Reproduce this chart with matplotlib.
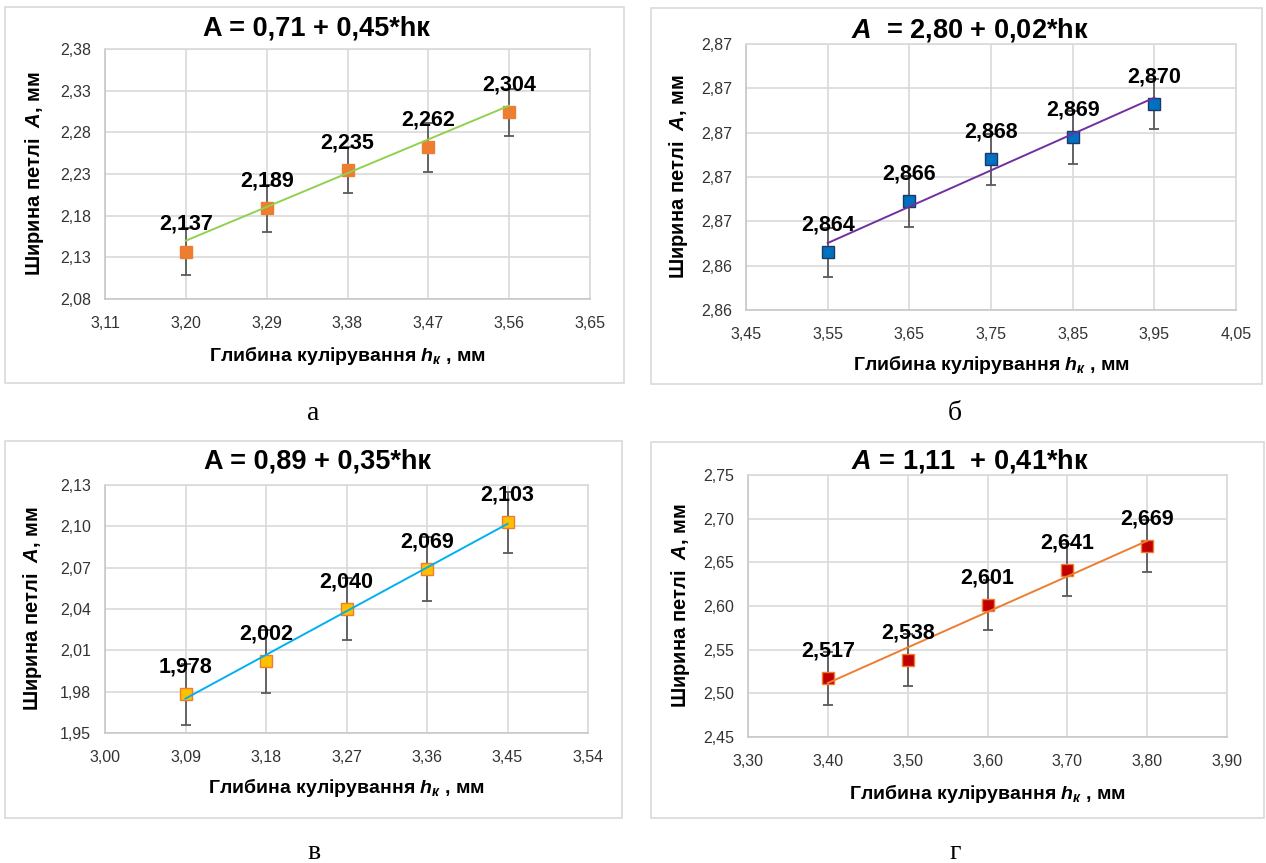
import numpy as np
import matplotlib
matplotlib.use("Agg")
import matplotlib.pyplot as plt
from matplotlib.patches import Rectangle

plt.rcParams['font.family'] = ['Liberation Sans', 'DejaVu Sans']
plt.rcParams['mathtext.fontset'] = 'custom'
plt.rcParams['mathtext.it'] = 'Liberation Sans:italic:bold'
plt.rcParams['mathtext.rm'] = 'Liberation Sans:bold'
plt.rcParams['mathtext.bf'] = 'Liberation Sans:bold'

# ---------------- data ----------------
# panel а
x_a = [3.20, 3.29, 3.38, 3.47, 3.56]
y_a = [2.137, 2.189, 2.235, 2.262, 2.304]
err_a = [0.028, 0.028, 0.028, 0.029, 0.028]
trend_a = [0.71, 0.45]
xticks_a = [3.11, 3.20, 3.29, 3.38, 3.47, 3.56, 3.65]
xticklabels_a = ["3,11", "3,20", "3,29", "3,38", "3,47", "3,56", "3,65"]
yticks_a = [2.08, 2.13, 2.18, 2.23, 2.28, 2.33, 2.38]
yticklabels_a = ["2,08", "2,13", "2,18", "2,23", "2,28", "2,33", "2,38"]
title_a = "A = 0,71 + 0,45*hк"

# panel б
x_b = [3.55, 3.65, 3.75, 3.85, 3.95]
y_b = [2.8636, 2.8659, 2.8678, 2.8688, 2.8703]
err_b = [0.0011, 0.00115, 0.00116, 0.0012, 0.00114]
trend_b = [2.8058, 0.0164]
xticks_b = [3.45, 3.55, 3.65, 3.75, 3.85, 3.95, 4.05]
xticklabels_b = ["3,45", "3,55", "3,65", "3,75", "3,85", "3,95", "4,05"]
yticks_b = [2.861, 2.863, 2.865, 2.867, 2.869, 2.871, 2.873]
yticklabels_b = ["2,86", "2,86", "2,87", "2,87", "2,87", "2,87", "2,87"]
title_b = "$A$  = 2,80 + 0,02*hк"

# panel в
x_c = [3.09, 3.18, 3.27, 3.36, 3.45]
y_c = [1.978, 2.002, 2.040, 2.069, 2.103]
err_c = [0.022, 0.023, 0.0225, 0.023, 0.022]
trend_c = [0.8867, 0.3522]
xticks_c = [3.00, 3.09, 3.18, 3.27, 3.36, 3.45, 3.54]
xticklabels_c = ["3,00", "3,09", "3,18", "3,27", "3,36", "3,45", "3,54"]
yticks_c = [1.95, 1.98, 2.01, 2.04, 2.07, 2.10, 2.13]
yticklabels_c = ["1,95", "1,98", "2,01", "2,04", "2,07", "2,10", "2,13"]
title_c = "A = 0,89 + 0,35*hк"

# panel г
x_d = [3.40, 3.50, 3.60, 3.70, 3.80]
y_d = [2.517, 2.538, 2.601, 2.641, 2.669]
err_d = [0.030, 0.030, 0.029, 0.030, 0.030]
trend_d = [1.128, 0.407]
xticks_d = [3.30, 3.40, 3.50, 3.60, 3.70, 3.80, 3.90]
xticklabels_d = ["3,30", "3,40", "3,50", "3,60", "3,70", "3,80", "3,90"]
yticks_d = [2.45, 2.50, 2.55, 2.60, 2.65, 2.70, 2.75]
yticklabels_d = ["2,45", "2,50", "2,55", "2,60", "2,65", "2,70", "2,75"]
title_d = "$A$ = 1,11  + 0,41*hк"

captions = ["а", "б", "в", "г"]
ylabel_text = "Ширина петлі  $A$, мм"
xlabel_text = "Глибина кулірування $h_{\\mathit{к}}$ , мм"

# ---------------- figure ----------------
W, H = 1266, 863
fig = plt.figure(figsize=(W / 100, H / 100), dpi=100)
fig.patch.set_facecolor('white')


def frac_x(x):
    return x / W


def frac_y(y):
    return 1 - y / H


panels = [
    dict(x=x_a, y=y_a, err=err_a, trend=trend_a, xt=xticks_a, xtl=xticklabels_a,
         yt=yticks_a, ytl=yticklabels_a, title=title_a,
         frame=(5, 7, 624, 383), plot=(105, 49, 590, 299),
         title_pos=(316, 28), ylab_x=35, xlab_y=355, cap_pos=(313, 413),
         mfc='#ED7D31', mec='#ED7D31', lc='#92D050'),
    dict(x=x_b, y=y_b, err=err_b, trend=trend_b, xt=xticks_b, xtl=xticklabels_b,
         yt=yticks_b, ytl=yticklabels_b, title=title_b,
         frame=(651, 8, 1262, 384), plot=(746, 44, 1236, 310),
         title_pos=(970, 30), ylab_x=678, xlab_y=364, cap_pos=(955, 413),
         mfc='#0070C0', mec='#1F3864', lc='#7030A0'),
    dict(x=x_c, y=y_c, err=err_c, trend=trend_c, xt=xticks_c, xtl=xticklabels_c,
         yt=yticks_c, ytl=yticklabels_c, title=title_c,
         frame=(5, 441, 622, 818), plot=(105, 485, 588, 733),
         title_pos=(317, 461), ylab_x=33, xlab_y=787, cap_pos=(314, 852),
         mfc='#FFC000', mec='#ED7D31', lc='#00B0F0'),
    dict(x=x_d, y=y_d, err=err_d, trend=trend_d, xt=xticks_d, xtl=xticklabels_d,
         yt=yticks_d, ytl=yticklabels_d, title=title_d,
         frame=(651, 442, 1264, 818), plot=(748, 475, 1227, 737),
         title_pos=(970, 461), ylab_x=680, xlab_y=793, cap_pos=(955, 852),
         mfc='#C00000', mec='#ED7D31', lc='#ED7D31'),
]

for i, p in enumerate(panels):
    fl, ft, fr, fb = p['frame']
    fig.add_artist(Rectangle((frac_x(fl), frac_y(fb)), (fr - fl) / W, (fb - ft) / H,
                             transform=fig.transFigure, facecolor='none',
                             edgecolor='#D9D9D9', linewidth=1.2, zorder=0))
    l, t, r, b = p['plot']
    ax = fig.add_axes([frac_x(l), frac_y(b), (r - l) / W, (b - t) / H])
    ax.set_xlim(p['xt'][0], p['xt'][-1])
    ax.set_ylim(p['yt'][0], p['yt'][-1])
    ax.set_xticks(p['xt'])
    ax.set_xticklabels(p['xtl'])
    ax.set_yticks(p['yt'])
    ax.set_yticklabels(p['ytl'])
    ax.tick_params(axis='both', length=0, labelsize=11.5, colors='#333333')
    ax.tick_params(axis='x', pad=12)
    ax.tick_params(axis='y', pad=10)
    ax.grid(True, color='#D9D9D9', linewidth=1.2)
    ax.set_axisbelow(True)
    for s in ['top', 'right']:
        ax.spines[s].set_color('#D9D9D9')
        ax.spines[s].set_linewidth(1.2)
    for s in ['left', 'bottom']:
        ax.spines[s].set_color('#C8C8C8')
        ax.spines[s].set_linewidth(1.2)

    xs = np.array(p['x'])
    ys = np.array(p['y'])
    ax.errorbar(xs, ys, yerr=p['err'], fmt='none', ecolor='#595959',
                elinewidth=1.3, capsize=3.6, capthick=1.3, zorder=3)
    ax.plot(xs, ys, linestyle='none', marker='s', markersize=8.2,
            markerfacecolor=p['mfc'], markeredgecolor=p['mec'],
            markeredgewidth=1.0, zorder=4)
    a0, a1 = p['trend']
    xl = np.array([xs[0], xs[-1]])
    ax.plot(xl, a0 + a1 * xl, color=p['lc'], linewidth=1.4, zorder=5)
    for xv, yv in zip(xs, ys):
        ax.annotate(f"{yv:.3f}".replace('.', ','), (xv, yv), xytext=(0, 19.5),
                    textcoords='offset points', ha='center', va='center',
                    fontsize=15.5, fontweight='bold', color='#000000', zorder=6)

    fig.text(frac_x(p['title_pos'][0]), frac_y(p['title_pos'][1]), p['title'],
             ha='center', va='center', fontsize=19.5, fontweight='bold')
    fig.text(frac_x(p['ylab_x']), frac_y((t + b) / 2), ylabel_text, rotation=90,
             ha='center', va='center', fontsize=14.5, fontweight='bold')
    fig.text(frac_x((l + r) / 2), frac_y(p['xlab_y']), xlabel_text,
             ha='center', va='center', fontsize=14, fontweight='bold')
    fig.text(frac_x(p['cap_pos'][0]), frac_y(p['cap_pos'][1]), captions[i],
             ha='center', va='center', fontsize=20,
             family=['Liberation Serif', 'DejaVu Serif'])

fig.savefig('out.png', dpi=100, facecolor='white')
